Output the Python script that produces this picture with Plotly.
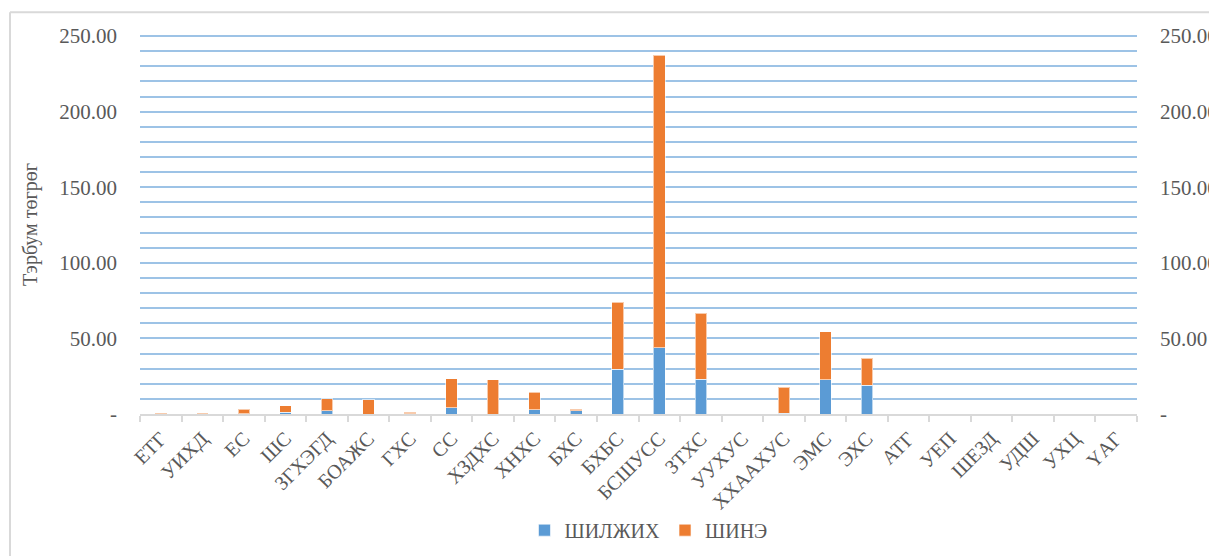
import plotly.graph_objects as go

# категории (сокращения) и значения, тэрбум төгрөг
categories = ['ЕТГ', 'УИХД', 'ЕС', 'ШС', 'ЗГХЭГД', 'БОАЖС', 'ГХС', 'СС', 'ХЗДХС', 'ХНХС',
              'БХС', 'БХБС', 'БСШУСС', 'ЗТХС', 'УУХУС', 'ХХААХУС', 'ЭМС', 'ЭХС',
              'АТГ', 'УЕП', 'ШЕЗД', 'УДШ', 'УХЦ', 'ҮАГ']
shiljikh = [0.2, 0.2, 0.2, 1.3, 2.0, 0.0, 0.3, 4.2, 0.0, 2.9,
            2.0, 29.6, 43.9, 23.1, 0.0, 0.5, 22.7, 19.0,
            0.0, 0.0, 0.0, 0.0, 0.0, 0.0]
shine = [0.6, 0.6, 2.9, 4.0, 8.0, 9.3, 0.8, 19.0, 22.7, 11.4,
         1.3, 44.3, 193.5, 43.5, 0.3, 17.1, 31.7, 18.0,
         0.0, 0.0, 0.0, 0.0, 0.0, 0.3]

tick_vals = [0, 50, 100, 150, 200, 250]
tick_text = ['-', '50.00', '100.00', '150.00', '200.00', '250.00']

FONT = 'Liberation Serif'
TXT = '#595959'

fig = go.Figure()
fig.add_trace(go.Bar(x=categories, y=shiljikh, name='ШИЛЖИХ',
                     marker=dict(color='#5B9BD5', line=dict(color='rgba(255,255,255,0.6)', width=1))))
fig.add_trace(go.Bar(x=categories, y=shine, name='ШИНЭ',
                     marker=dict(color='#ED7D31', line=dict(color='rgba(255,255,255,0.6)', width=1))))
# невидимый след для правой оси
fig.add_trace(go.Scatter(x=[categories[0]], y=[0], yaxis='y2', mode='markers',
                         marker=dict(opacity=0), showlegend=False, hoverinfo='skip'))

# верх диапазона чуть выше 250, чтобы линия сетки 250 не срезалась
yaxis_common = dict(range=[0, 250.7], tickvals=tick_vals, ticktext=tick_text,
                    tickfont=dict(family=FONT, size=21, color=TXT),
                    ticks='', ticklabelstandoff=22, zeroline=False, automargin=False)

# отступы учитывают 8px поля body в html
fig.update_layout(
    width=1217, height=556,
    paper_bgcolor='white', plot_bgcolor='white',
    barmode='stack', bargap=0.72,
    font=dict(family=FONT, color=TXT),
    margin=dict(l=132, r=88, t=27, b=150),
    xaxis=dict(range=[-0.5, len(categories) - 0.5],
               tickangle=-45, tickfont=dict(family=FONT, size=20, color=TXT), ticklabelstandoff=3,
               showline=True, linecolor='#D9D9D9', linewidth=2,
               ticks='outside', tickson='boundaries', ticklen=6, tickcolor='#D9D9D9', tickwidth=2,
               showgrid=False, automargin=False),
    yaxis=dict(**yaxis_common, showgrid=True, gridcolor='#9DC3E6', gridwidth=2,
               minor=dict(dtick=10, showgrid=True, gridcolor='#9DC3E6', gridwidth=2),
               title=dict(text='Тэрбум төгрөг', font=dict(family=FONT, size=20, color=TXT), standoff=16)),
    yaxis2=dict(**yaxis_common, overlaying='y', side='right', showgrid=False),
    legend=dict(orientation='h', x=0.51, y=-0.255, xanchor='center', yanchor='top',
                font=dict(family=FONT, size=20, color=TXT), traceorder='normal',
                itemwidth=30),
    showlegend=True,
)

# рамка диаграммы (видны только левая и верхняя стороны)
fig.add_shape(type='line', xref='paper', yref='paper', x0=-0.1304, x1=1.09, y0=1.06, y1=1.06,
              line=dict(color='#D9D9D9', width=2))
fig.add_shape(type='line', xref='paper', yref='paper', x0=-0.1304, x1=-0.1304, y0=1.06, y1=-0.40,
              line=dict(color='#D9D9D9', width=2))

fig.write_html('out.html')
